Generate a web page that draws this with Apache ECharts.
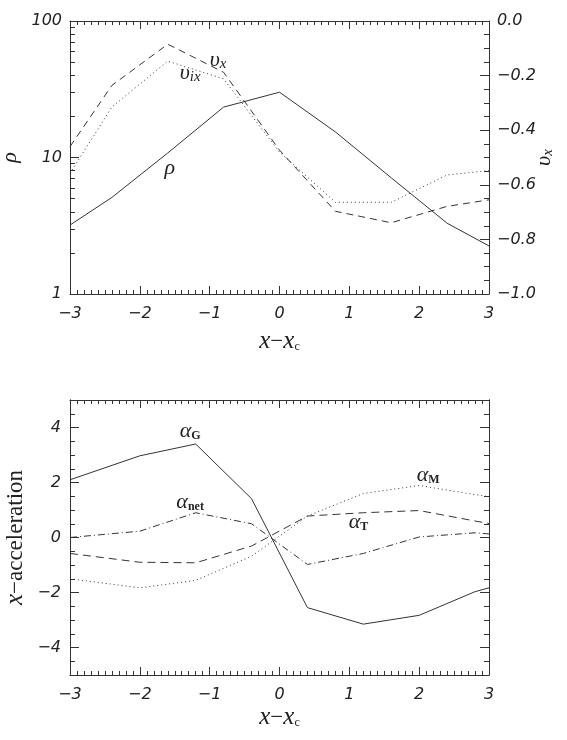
<html>
<meta charset="utf-8">
<body style="margin:0;background:#fff">
    <div id="main" style="width:567px;height:740px;"></div>
</body>
</html>
<script type="text/javascript" src="https://cdn.jsdelivr.net/npm/echarts@6/dist/echarts.min.js"></script>
<script type="text/javascript">

// top panel
var xTop = [-3, -2.4, -1.6, -0.8, 0, 0.8, 1.6, 2.4, 3];
var rho = [3.2, 5.1, 10.8, 23.4, 30.1, 15.4, 7.1, 3.3, 2.25];
var vx = [-0.46, -0.236, -0.085, -0.188, -0.473, -0.697, -0.739, -0.679, -0.655];
var vix = [-0.558, -0.315, -0.147, -0.212, -0.48, -0.664, -0.664, -0.564, -0.548];

// bottom panel
var xBot = [-3, -2, -1.2, -0.4, 0.4, 1.2, 2, 2.8, 3];
var aG = [2.1, 2.97, 3.4, 1.41, -2.55, -3.15, -2.83, -1.97, -1.83];
var aM = [-1.5, -1.83, -1.56, -0.68, 0.78, 1.6, 1.89, 1.56, 1.48];
var aT = [-0.58, -0.9, -0.92, -0.31, 0.78, 0.9, 0.98, 0.6, 0.51];
var aNet = [0.0, 0.23, 0.9, 0.5, -0.98, -0.58, 0.02, 0.17, 0.13];

var rhoTicks = [1, 10, 100];
var rhoMinor = [2, 3, 4, 5, 6, 7, 8, 9, 20, 30, 40, 50, 60, 70, 80, 90];
var accTicks = [-4, -2, 0, 2, 4];

function pairs(xs, ys) {
    var out = [];
    for (var i = 0; i < xs.length; i++) out.push([xs[i], ys[i]]);
    return out;
}
function minus(s) { return String(s).replace('-', '\u2212'); }

var ink = '#333';
var tickFont = { fontFamily: 'DejaVu Sans', fontStyle: 'italic', fontSize: 16, color: '#222' };
var serifName = { fontFamily: 'Liberation Serif', fontStyle: 'italic', fontSize: 25, color: '#222' };
var rich = {
    g: { fontFamily: 'Liberation Serif', fontStyle: 'italic', fontSize: 22, color: '#222' },
    s: { fontFamily: 'Liberation Serif', fontSize: 12, fontWeight: 'bold', color: '#222', padding: [9, 0, 0, 0] },
    si: { fontFamily: 'Liberation Serif', fontStyle: 'italic', fontSize: 15, color: '#222', padding: [8, 0, 0, 0] }
};

function xAx(grid, pos, labels, gap) {
    return {
        type: 'value', gridIndex: grid, position: pos, min: -3, max: 3, interval: 1,
        axisLine: { show: true, onZero: false, lineStyle: { color: ink, width: 1 } },
        axisTick: { show: true, inside: true, length: 8, lineStyle: { color: ink } },
        minorTick: { show: true, splitNumber: 10, length: 4, lineStyle: { color: ink } },
        splitLine: { show: false },
        axisLabel: Object.assign({ show: labels, margin: 12, formatter: minus }, tickFont),
        name: labels ? '{i|x}{m|\u2212}{i|x}{c|c}' : '',
        nameLocation: 'middle', nameGap: gap || 0,
        nameTextStyle: { rich: {
            i: serifName,
            m: { fontFamily: 'Liberation Serif', fontSize: 23, color: '#222' },
            c: { fontFamily: 'Liberation Serif', fontSize: 12, color: '#222', padding: [11, 0, 0, 0] }
        } }
    };
}
function yTicks(grid, pos, vals, len, labels, extra) {
    return Object.assign({
        type: 'value', gridIndex: grid, position: pos, min: -5, max: 5,
        axisLine: { show: true, onZero: false, lineStyle: { color: ink } },
        axisTick: { show: true, inside: true, length: len, customValues: vals, lineStyle: { color: ink } },
        axisLabel: Object.assign({ show: labels, customValues: vals, margin: 9, formatter: minus }, tickFont),
        splitLine: { show: false }
    }, extra || {});
}
function tag(coord, text) {
    return { coord: coord, symbolSize: 0, label: { show: true, position: 'inside', formatter: text, rich: rich } };
}
function line(name, xi, yi, data, type, marks) {
    return {
        name: name, type: 'line', xAxisIndex: xi, yAxisIndex: yi, data: data,
        showSymbol: false, silent: true, animation: false,
        lineStyle: { color: ink, width: 1, type: type },
        markPoint: marks ? { symbol: 'circle', data: marks, animation: false } : undefined
    };
}

var accMinor = [];
for (var k = -10; k <= 10; k++) accMinor.push(k / 2);

var myChart = echarts.init(document.getElementById('main'));
var option = {
    animation: false,
    grid: [
        { left: 70, top: 21, width: 419, height: 273, outerBoundsMode: 'none', containLabel: false },
        { left: 70, top: 400, width: 419, height: 275, outerBoundsMode: 'none', containLabel: false }
    ],
    xAxis: [xAx(0, 'bottom', true, 35), xAx(0, 'top', false), xAx(1, 'bottom', true, 30), xAx(1, 'top', false)],
    yAxis: [
        {
            type: 'log', logBase: 10, gridIndex: 0, position: 'left', min: 1, max: 100,
            axisLine: { show: true, onZero: false, lineStyle: { color: ink } },
            axisTick: { show: true, inside: true, length: 9, customValues: rhoTicks, lineStyle: { color: ink } },
            axisLabel: Object.assign({ customValues: rhoTicks, margin: 8 }, tickFont),
            splitLine: { show: false },
            name: '{g|\u03c1}', nameLocation: 'middle', nameGap: 49, nameMoveOverlap: false,
            nameTextStyle: { rich: rich }
        },
        {
            type: 'log', logBase: 10, gridIndex: 0, position: 'left', min: 1, max: 100,
            axisLine: { show: false, onZero: false },
            axisTick: { show: true, inside: true, length: 5, customValues: rhoMinor, lineStyle: { color: ink } },
            axisLabel: { show: false }, splitLine: { show: false }
        },
        {
            type: 'value', gridIndex: 0, position: 'right', min: -1, max: 0, interval: 0.2,
            axisLine: { show: true, onZero: false, lineStyle: { color: ink } },
            axisTick: { show: true, inside: true, length: 9, lineStyle: { color: ink } },
            minorTick: { show: true, splitNumber: 4, length: 5, lineStyle: { color: ink } },
            axisLabel: Object.assign({ margin: 8, formatter: function (v) { return minus(v.toFixed(1)); } }, tickFont),
            splitLine: { show: false },
            name: '{g|\u03c5}{si|x}', nameLocation: 'middle', nameGap: 44, nameMoveOverlap: false,
            nameTextStyle: { rich: rich }
        },
        yTicks(1, 'left', accTicks, 9, true, {
            name: '{i|x}{m|\u2212acceleration}', nameLocation: 'middle', nameGap: 42, nameMoveOverlap: false,
            nameTextStyle: { rich: {
                i: serifName,
                m: { fontFamily: 'Liberation Serif', fontSize: 23, color: '#222' }
            } }
        }),
        yTicks(1, 'left', accMinor, 5, false),
        yTicks(1, 'right', accTicks, 9, false),
        yTicks(1, 'right', accMinor, 5, false)
    ],
    series: [
        line('rho', 0, 0, pairs(xTop, rho), 'solid', [tag([-1.57, 8.4], '{g|\u03c1}')]),
        line('vx', 0, 2, pairs(xTop, vx), [7, 5], [tag([-0.88, -0.143], '{g|\u03c5}{si|x}')]),
        line('vix', 0, 2, pairs(xTop, vix), [1, 3], [tag([-1.28, -0.19], '{g|\u03c5}{si|ix}')]),
        line('aG', 2, 3, pairs(xBot, aG), 'solid', [tag([-1.28, 3.85], '{g|\u03b1}{s|G}')]),
        line('aM', 2, 3, pairs(xBot, aM), [1, 3], [tag([2.13, 2.25], '{g|\u03b1}{s|M}')]),
        line('aT', 2, 3, pairs(xBot, aT), [8, 5], [tag([1.13, 0.55], '{g|\u03b1}{s|T}')]),
        line('aNet', 2, 3, pairs(xBot, aNet), [7, 3, 1, 3], [tag([-1.28, 1.27], '{g|\u03b1}{s|net}')])
    ]
};
myChart.setOption(option);
</script>
